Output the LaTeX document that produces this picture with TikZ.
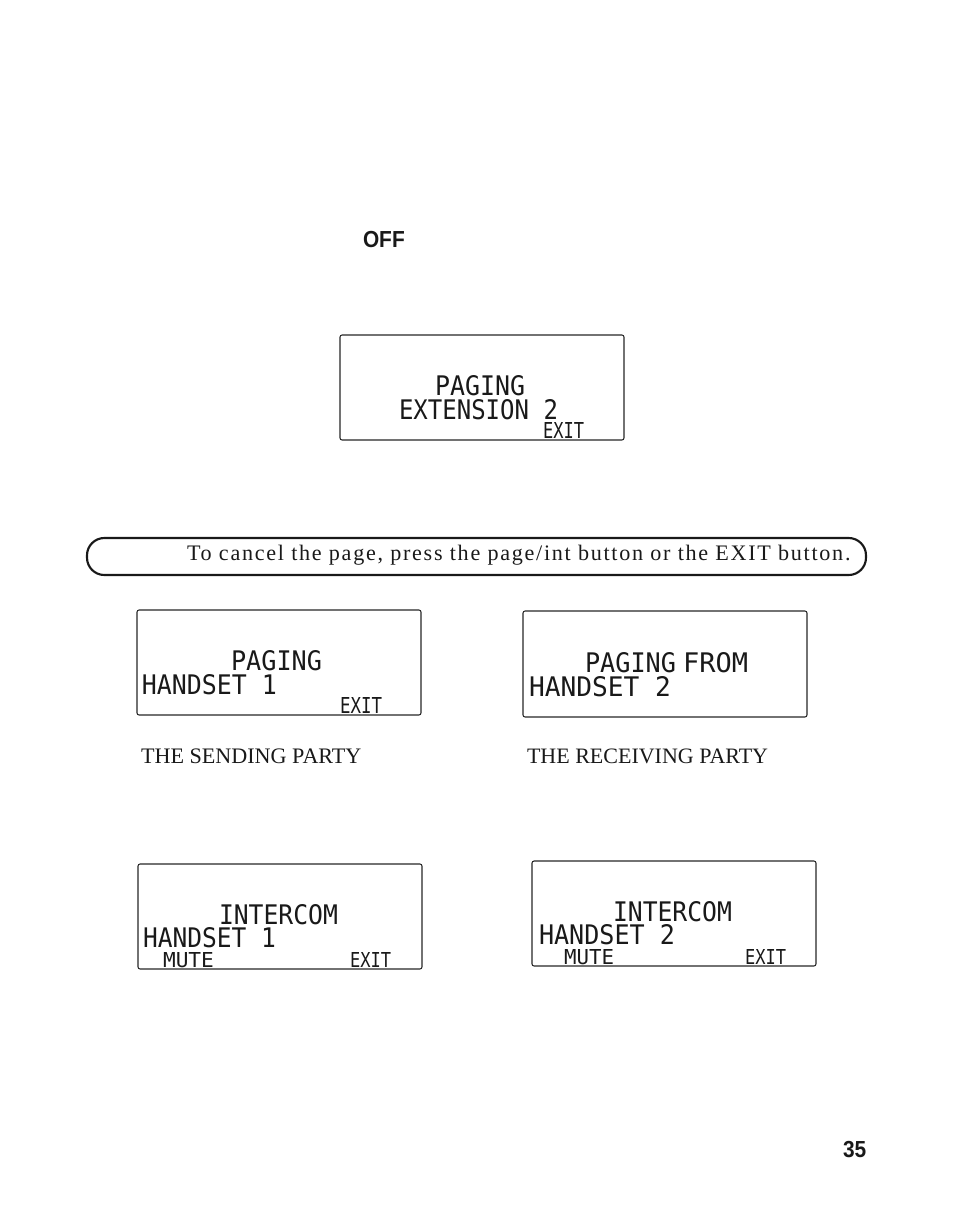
\documentclass[tikz,border=0pt]{standalone}
\usepackage{graphicx}
\usepackage{fontspec}
\setmainfont{Liberation Serif}
\setsansfont{Liberation Sans}
\newfontfamily\lcdfont{DejaVu Sans Mono}
\newfontfamily\headfont[FakeStretch=0.9]{Liberation Sans}
\newfontfamily\bodyfont[LetterSpace=7.7]{Liberation Serif}
\newcommand{\lcdtxt}[3]{\resizebox{\dimexpr #1pt*3/4\relax}{\dimexpr #2pt*3/4\relax}{\lcdfont #3}}
\tikzset{
  screen/.style={draw=black!85,line width=0.8pt,rounded corners=1.6pt},
  lab/.style={inner sep=0pt,outer sep=0pt,anchor=base west,text=black!90},
}
\begin{document}
\begin{tikzpicture}[x=0.75pt,y=-0.75pt]
\useasboundingbox (0,0) rectangle (954,1215);
% top
\node[lab] (off) at (363,247) {\headfont\bfseries\fontsize{17.4}{18}\selectfont OFF};
% screen 1
\draw[screen] (340,335) rectangle (624,440);
\node[lab] (a1) at (435,395) {\lcdtxt{90}{20}{PAGING}};
\node[lab] (a2) at (399,419) {\lcdtxt{159}{20}{EXTENSION 2}};
\node[lab] (a3) at (543,438) {\lcdtxt{41}{16}{EXIT}};
% note
\draw[line width=1.6pt,rounded corners=13pt,black!90] (87,538) rectangle (866,575);
\node[lab] (note) at (187,560) {\bodyfont\fontsize{16.6}{18}\selectfont To cancel the page, press the page/int button or the EXIT button.};
% screen 2
\draw[screen] (137,610) rectangle (421,715);
\node[lab] (b1) at (231,670) {\lcdtxt{91}{20}{PAGING}};
\node[lab] (b2) at (142,694) {\lcdtxt{135}{20}{HANDSET 1}};
\node[lab] (b3) at (340,713) {\lcdtxt{42}{16}{EXIT}};
% screen 3
\draw[screen] (523,611) rectangle (807,717);
\node[lab] (c1) at (585,672) {\lcdtxt{91}{20}{PAGING}};
\node[lab] (c1b) at (683,672) {\lcdtxt{65}{20}{FROM}};
\node[lab] (c2) at (529,696) {\lcdtxt{142}{20}{HANDSET 2}};
% captions
\node[lab] (s) at (141,763) {\fontsize{16.6}{18}\selectfont THE SENDING PARTY};
\node[lab] (r) at (527,763) {\fontsize{16.5}{18}\selectfont THE RECEIVING PARTY};
% screen 4
\draw[screen] (138,864) rectangle (422,969);
\node[lab] (d1) at (219,924) {\lcdtxt{119}{20}{INTERCOM}};
\node[lab] (d2) at (143,947) {\lcdtxt{133}{20}{HANDSET 1}};
\node[lab] (d3) at (163,967) {\lcdtxt{51}{15}{MUTE}};
\node[lab] (d4) at (350,967) {\lcdtxt{41}{15}{EXIT}};
% screen 5
\draw[screen] (532,861) rectangle (816,966);
\node[lab] (e1) at (613,921) {\lcdtxt{119}{20}{INTERCOM}};
\node[lab] (e2) at (539,944) {\lcdtxt{136}{20}{HANDSET 2}};
\node[lab] (e3) at (564,964) {\lcdtxt{50}{15}{MUTE}};
\node[lab] (e4) at (745,964) {\lcdtxt{41}{15}{EXIT}};
% page number
\node[lab] (pg) at (843,1157) {\headfont\bfseries\fontsize{17.4}{18}\selectfont 35};
\end{tikzpicture}
\end{document}
